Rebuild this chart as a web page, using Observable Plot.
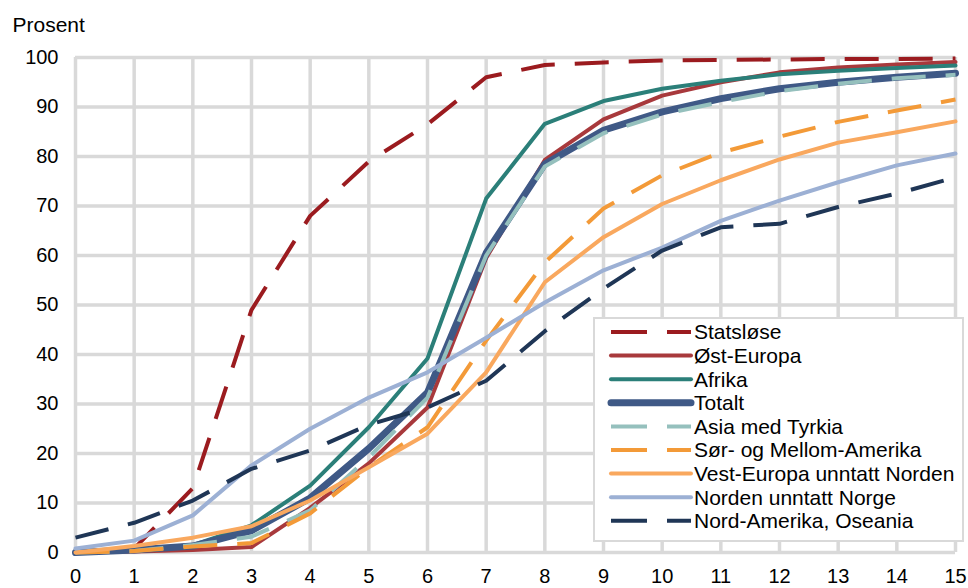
<!DOCTYPE html>
<html>
<head>
<meta charset="utf-8">
<script src="https://cdn.jsdelivr.net/npm/d3@7"></script>
<script src="https://cdn.jsdelivr.net/npm/@observablehq/plot@0.6"></script>
<style>
  body { margin: 0; background: #fff; }
  #wrap { position: relative; width: 968px; height: 588px; font-family: "Liberation Sans", Arial, sans-serif; }
  #legend { position: absolute; left: 593px; top: 317px; width: 367px; height: 221px; background: #fff; border: 2px solid #d9d9d9; }
</style>
</head>
<body>
<div id="wrap"><div id="chart"></div><div id="legend"></div></div>
<script>
const years = [0, 1, 2, 3, 4, 5, 6, 7, 8, 9, 10, 11, 12, 13, 14, 15];
const yTicks = [0, 10, 20, 30, 40, 50, 60, 70, 80, 90, 100];
const yLabel = "Prosent";

const seriesNames = ["Statsløse", "Øst-Europa", "Afrika", "Totalt", "Asia med Tyrkia",
  "Sør- og Mellom-Amerika", "Vest-Europa unntatt Norden", "Norden unntatt Norge", "Nord-Amerika, Oseania"];

const statslose = [0, 0.8, 13, 49, 68, 79, 86.5, 96, 98.5, 99, 99.4, 99.5, 99.6, 99.7, 99.7, 99.8];
const ostEuropa = [0, 0.2, 0.5, 1.1, 9, 18, 29.3, 59.5, 79.3, 87.5, 92.3, 95, 97, 98, 98.6, 99.1];
const afrika = [0, 0.5, 1.5, 5.5, 13.5, 25.3, 39.2, 71.5, 86.6, 91.2, 93.7, 95.3, 96.6, 97.3, 97.9, 98.4];
const totalt = [0, 0.5, 1.3, 4.4, 11, 21, 32.3, 60.5, 78.5, 85.3, 89, 91.7, 93.7, 95, 96, 96.8];
const asia = [0, 0.3, 1.5, 3.2, 8.5, 19.2, 31.3, 60, 78, 84.7, 88.5, 91, 93.2, 94.7, 95.8, 96.5];
const sorAmerika = [0, 0.3, 1.2, 1.9, 7.9, 17.2, 25.3, 42.8, 58.6, 69.5, 76.2, 80.8, 84, 87, 89.3, 91.5];
const vestEuropa = [0, 1.3, 3, 5.3, 10.5, 17.2, 24, 36.4, 54.6, 63.7, 70.4, 75.2, 79.4, 82.8, 84.9, 87.1];
const norden = [0.8, 2.4, 7.5, 17.6, 25, 31.3, 36.4, 43.4, 50.5, 57, 61.6, 67, 71.1, 74.8, 78.2, 80.6];
const nordAmerika = [3, 6, 10.5, 16.9, 20.6, 25.8, 29.3, 34.7, 44.7, 53.3, 61, 65.7, 66.4, 69.8, 72.5, 75.8];

const seriesValues = [statslose, ostEuropa, afrika, totalt, asia, sorAmerika, vestEuropa, norden, nordAmerika];
const colors = ["#9b1b1f", "#a8393c", "#2b7f79", "#3f5986", "#95c0bd", "#f39a38", "#f9a85e", "#9cb0d4", "#1f3656"];
const dashed = [true, false, false, false, true, true, false, false, true];
const widths = [4, 4, 4, 7, 4, 4, 4, 4, 4];
const DASH = "34,20";

const lineMarks = seriesNames.map((name, i) => {
  const rows = years.map((yr, j) => ({year: yr, value: seriesValues[i][j]}));
  return Plot.line(rows, {
    x: "year", y: "value",
    stroke: colors[i], strokeWidth: widths[i],
    strokeDasharray: dashed[i] ? DASH : null,
    strokeLinecap: dashed[i] ? "butt" : "round",
    strokeLinejoin: "round"
  });
});

const chart = Plot.plot({
  width: 968, height: 588,
  marginLeft: 75, marginRight: 13, marginTop: 57, marginBottom: 36,
  style: {fontFamily: "'Liberation Sans', Arial, sans-serif", fontSize: "20px", color: "#000", background: "#fff"},
  x: {domain: [0, 15]},
  y: {domain: [0, 100]},
  marks: [
    Plot.gridX(years, {stroke: "#d9d9d9", strokeOpacity: 1, strokeWidth: 3.5}),
    Plot.gridY(yTicks, {stroke: "#d9d9d9", strokeOpacity: 1, strokeWidth: 3.5}),
    ...lineMarks,
    Plot.axisX(years, {tickSize: 0, tickPadding: 16, label: null, fontSize: 20}),
    Plot.axisY(yTicks, {tickSize: 0, tickPadding: 17, label: null, fontSize: 20}),
    Plot.text([yLabel], {frameAnchor: "top-left", dx: -63, dy: -32, textAnchor: "start", lineAnchor: "middle", fontSize: 21})
  ]
});
document.getElementById("chart").append(chart);

// legend
const lw = 367, lh = 221;
const svg = d3.select("#legend").append("svg").attr("width", lw).attr("height", lh)
  .style("font-family", "'Liberation Sans', Arial, sans-serif").style("font-size", "21px");
seriesNames.forEach((name, i) => {
  const cy = 13 + i * 23.6;
  svg.append("line").attr("x1", 16).attr("x2", 96).attr("y1", cy).attr("y2", cy)
    .attr("stroke", colors[i]).attr("stroke-width", widths[i])
    .attr("stroke-dasharray", dashed[i] ? "36,20" : null)
    .attr("stroke-linecap", dashed[i] ? "butt" : "round");
  svg.append("text").attr("x", 99).attr("y", cy).attr("dy", "0.35em").attr("fill", "#000").text(name);
});
</script>
</body>
</html>
